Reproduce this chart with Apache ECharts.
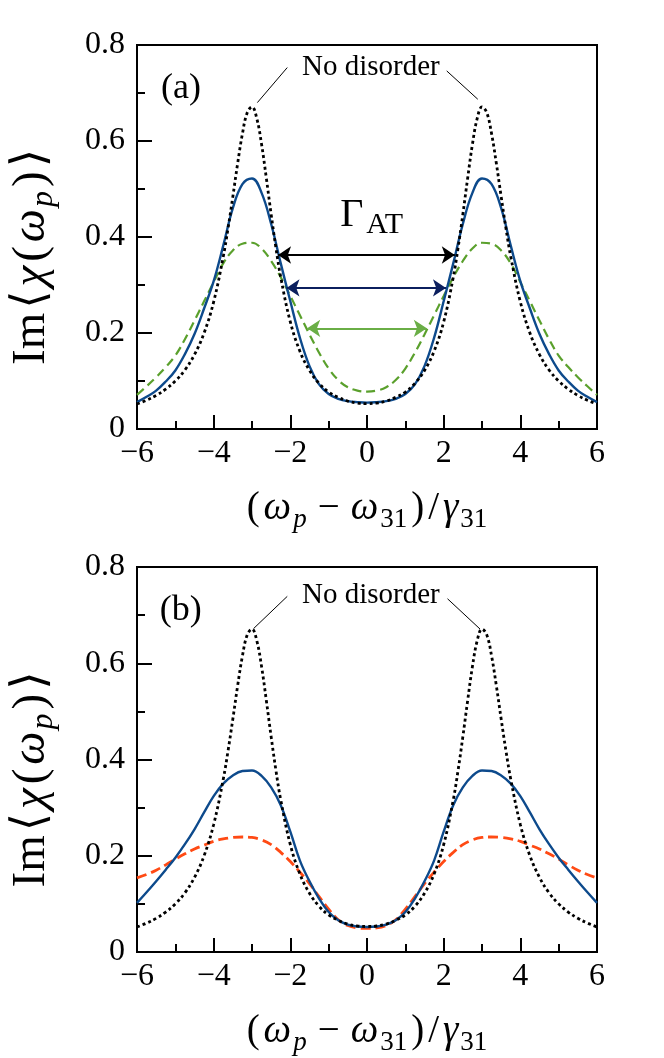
<!DOCTYPE html>
<html>
<head>
<meta charset="utf-8">
<script src="https://cdn.jsdelivr.net/npm/echarts@6.0.0/dist/echarts.min.js"></script>
<style>
html, body { margin: 0; padding: 0; background: #fff; }
#chart { width: 664px; height: 1058px; }
</style>
</head>
<body>
<div id="chart"></div>
<script>
// detuning (omega_p - omega_31)/gamma_31, shared by the disordered curves
var xs = [-6,-5.75,-5.5,-5.25,-5,-4.75,-4.5,-4.25,-4,-3.75,-3.5,-3.25,-3,-2.75,-2.5,-2.25,-2,-1.75,-1.5,-1.25,-1,-0.75,-0.5,-0.25,0,
          0.25,0.5,0.75,1,1.25,1.5,1.75,2,2.25,2.5,2.75,3,3.25,3.5,3.75,4,4.25,4.5,4.75,5,5.25,5.5,5.75,6];

// no-disorder curve is sharper, so it is read a bit finer near the peaks
var xDot = [-6,-5.75,-5.5,-5.25,-5,-4.75,-4.5,-4.25,-4,-3.75,-3.625,-3.5,-3.375,-3.25,-3.125,-3,-2.875,-2.75,-2.625,-2.5,-2.375,-2.25,-2,-1.75,-1.5,-1.25,-1,-0.75,-0.5,-0.25,0,
            0.25,0.5,0.75,1,1.25,1.5,1.75,2,2.25,2.375,2.5,2.625,2.75,2.875,3,3.125,3.25,3.375,3.5,3.625,3.75,4,4.25,4.5,4.75,5,5.25,5.5,5.75,6];
var noDisorder = [0.052,0.060,0.070,0.083,0.100,0.123,0.155,0.200,0.265,0.359,0.418,0.484,0.553,0.615,0.659,0.671,0.647,0.593,0.522,0.447,0.377,0.316,0.223,0.162,0.122,0.095,0.077,0.066,0.058,0.054,0.053,
                  0.054,0.058,0.066,0.077,0.095,0.122,0.162,0.223,0.316,0.377,0.447,0.522,0.593,0.647,0.671,0.659,0.615,0.553,0.484,0.418,0.359,0.265,0.200,0.155,0.123,0.100,0.083,0.070,0.060,0.052];

// panel (a)
var blueA = [0.056,0.067,0.080,0.099,0.122,0.156,0.198,0.251,0.308,0.382,0.460,0.510,0.522,0.492,0.427,0.345,0.266,0.190,0.131,0.093,0.073,0.063,0.058,0.056,0.055,
             0.056,0.058,0.063,0.073,0.093,0.131,0.190,0.266,0.345,0.427,0.492,0.522,0.510,0.460,0.382,0.308,0.251,0.198,0.156,0.122,0.099,0.080,0.067,0.056];
var greenA = [0.071,0.089,0.108,0.129,0.153,0.187,0.226,0.266,0.306,0.345,0.372,0.386,0.388,0.376,0.350,0.316,0.277,0.237,0.197,0.159,0.126,0.102,0.087,0.080,0.078,
              0.080,0.087,0.102,0.126,0.159,0.197,0.237,0.277,0.316,0.350,0.376,0.388,0.386,0.372,0.345,0.306,0.266,0.226,0.187,0.153,0.129,0.108,0.089,0.071];

// panel (b)
var blueB = [0.102,0.124,0.147,0.171,0.196,0.224,0.255,0.290,0.324,0.350,0.367,0.376,0.377,0.366,0.342,0.305,0.250,0.190,0.147,0.111,0.083,0.066,0.057,0.053,0.052,
             0.053,0.057,0.066,0.083,0.111,0.147,0.190,0.250,0.305,0.342,0.366,0.377,0.376,0.367,0.350,0.324,0.290,0.255,0.224,0.196,0.171,0.147,0.124,0.102];
var redB = [0.154,0.161,0.170,0.181,0.193,0.204,0.214,0.222,0.230,0.235,0.238,0.239,0.238,0.233,0.223,0.207,0.188,0.166,0.142,0.115,0.089,0.067,0.055,0.050,0.049,
            0.050,0.055,0.067,0.089,0.115,0.142,0.166,0.188,0.207,0.223,0.233,0.238,0.239,0.238,0.235,0.230,0.222,0.214,0.204,0.193,0.181,0.170,0.161,0.154];

// Gamma_AT width arrows in panel (a): level, left end, right end
var arrowLevels = [0.3625, 0.294, 0.2097];
var arrowLeft   = [-2.32, -2.10, -1.56];
var arrowRight  = [2.29, 2.06, 1.56];
var arrowColors = ['#000000', '#0b1f5e', '#6aae46'];

// "No disorder" leader lines: [from, to] in data coords
var leadersA = [[[-2.08, 0.753], [-2.86, 0.680]], [[2.08, 0.746], [2.89, 0.687]]];
var leadersB = [[[-2.08, 0.739], [-2.96, 0.672]], [[2.10, 0.734], [2.95, 0.671]]];

var SERIF = '"Liberation Serif", "DejaVu Serif", serif';

function pairs(x, y) {
    var out = [];
    for (var i = 0; i < x.length; i++) out.push([x[i], y[i]]);
    return out;
}

// math-like rich styles; a little horizontal padding imitates TeX spacing
function mathRich(size, subSize, pad, minusPad) {
    var lh = size + 10;
    return {
        t: { fontFamily: SERIF, fontSize: size, lineHeight: lh, color: '#000', padding: [0, pad, 0, pad] },
        i: { fontFamily: SERIF, fontSize: size, lineHeight: lh, fontStyle: 'italic', color: '#000', padding: [0, pad, 0, pad] },
        m: { fontFamily: SERIF, fontSize: size, lineHeight: lh, color: '#000', padding: [0, minusPad, 0, minusPad] },
        s: { fontFamily: SERIF, fontSize: subSize, lineHeight: subSize + 8, fontStyle: 'italic', verticalAlign: 'bottom', color: '#000', padding: [0, pad, 0, 0] },
        n: { fontFamily: SERIF, fontSize: subSize, lineHeight: subSize + 8, verticalAlign: 'bottom', color: '#000', padding: [0, pad, 0, 0] }
    };
}

function xAxisFor(idx) {
    return {
        type: 'value', gridIndex: idx, min: -6, max: 6, interval: 2,
        name: '{t|(}{i|ω}{s|p}{m|−}{i|ω}{n|31}{t|)}{t|/}{i|γ}{n|31}',
        nameLocation: 'middle', nameGap: 55,
        nameTextStyle: { rich: mathRich(39, 27, 2, 9) },
        axisLine: { show: true, onZero: false, lineStyle: { color: '#000', width: 2 } },
        axisTick: { show: true, inside: true, length: 14, lineStyle: { color: '#000', width: 2 } },
        minorTick: { show: true, splitNumber: 2, length: 8, lineStyle: { color: '#000', width: 2 } },
        splitLine: { show: false },
        axisLabel: {
            color: '#000', fontFamily: SERIF, fontSize: 32, margin: 9,
            formatter: function (v) { return String(v).replace('-', '\u2212'); }
        }
    };
}

function yAxisFor(idx) {
    return {
        type: 'value', gridIndex: idx, min: 0, max: 0.8, interval: 0.2,
        name: '{t|Im}{t|⟨}{i|χ}{t|(}{i|ω}{s|p}{t|)}{t|⟩}',
        nameLocation: 'middle', nameGap: 77,
        nameTextStyle: { rich: mathRich(47, 32, 2, 2), padding: [0, 40, 0, 0] },
        axisLine: { show: true, onZero: false, lineStyle: { color: '#000', width: 2 } },
        axisTick: { show: true, inside: true, length: 15, lineStyle: { color: '#000', width: 2 } },
        minorTick: { show: true, splitNumber: 2, length: 8, lineStyle: { color: '#000', width: 2 } },
        splitLine: { show: false },
        axisLabel: { color: '#000', fontFamily: SERIF, fontSize: 32, margin: 12 }
    };
}

function leaderLines(list) {
    var out = [];
    for (var i = 0; i < list.length; i++) {
        out.push([{ coord: list[i][0] }, { coord: list[i][1] }]);
    }
    return {
        silent: true, symbol: ['none', 'none'], label: { show: false },
        lineStyle: { color: '#000', width: 1, type: 'solid' },
        data: out
    };
}

function widthArrows() {
    var out = [];
    for (var i = 0; i < arrowLevels.length; i++) {
        out.push([
            { coord: [arrowLeft[i], arrowLevels[i]],
              lineStyle: { color: arrowColors[i], width: 2, type: 'solid' },
              itemStyle: { color: arrowColors[i] } },
            { coord: [arrowRight[i], arrowLevels[i]], itemStyle: { color: arrowColors[i] } }
        ]);
    }
    return {
        silent: true, symbol: ['arrow', 'arrow'], symbolSize: 13, label: { show: false },
        data: out
    };
}

function curve(name, idx, x, y, color, width, dash) {
    return {
        name: name, type: 'line', xAxisIndex: idx, yAxisIndex: idx,
        data: pairs(x, y), showSymbol: false, smooth: 0.4, z: 3,
        lineStyle: { color: color, width: width, type: dash || 'solid', cap: 'butt' }
    };
}

function BriefingSusceptibilityChart(elementId) {
    var myChart = echarts.init(document.getElementById(elementId));

    var dotA = curve('No disorder', 0, xDot, noDisorder, '#000', 2.8, [3, 3]);
    dotA.markLine = leaderLines(leadersA);
    var solidA = curve('blue a', 0, xs, blueA, '#0d4a8c', 2.4);
    solidA.markLine = widthArrows();
    var dotB = curve('No disorder', 1, xDot, noDisorder, '#000', 2.8, [3, 3]);
    dotB.markLine = leaderLines(leadersB);

    var option = {
        backgroundColor: '#fff',
        animation: false,
        grid: [
            { left: 130, top: 45, width: 467, height: 384, show: true, borderColor: '#000', borderWidth: 2 },
            { left: 130, top: 567, width: 467, height: 385, show: true, borderColor: '#000', borderWidth: 2 }
        ],
        xAxis: [xAxisFor(0), xAxisFor(1)],
        yAxis: [yAxisFor(0), yAxisFor(1)],
        series: [
            curve('green a', 0, xs, greenA, '#5aa02c', 2.2, [9, 5]),
            solidA,
            dotA,
            curve('red b', 1, xs, redB, '#ff4a14', 2.8, [10, 5]),
            curve('blue b', 1, xs, blueB, '#0d4a8c', 2.4),
            dotB
        ]
    };
    myChart.setOption(option);

    // text annotations placed through the axes
    var g = [];
    function text(gridIndex, x, y, str, size) {
        var p = myChart.convertToPixel({ gridIndex: gridIndex }, [x, y]);
        g.push({ type: 'text', x: p[0], y: p[1], z: 10,
                 style: { text: str, fill: '#000', fontFamily: SERIF, fontSize: size, align: 'center', verticalAlign: 'middle' } });
    }
    text(0, 0.1, 0.753, 'No disorder', 29);
    text(1, 0.1, 0.741, 'No disorder', 29);
    text(0, -4.85, 0.71, '(a)', 36);
    text(1, -4.86, 0.71, '(b)', 36);

    var pg = myChart.convertToPixel({ gridIndex: 0 }, [0.12, 0.445]);
    g.push({ type: 'text', x: pg[0], y: pg[1], z: 10,
             style: { text: '{g|Γ}{s|AT}', align: 'center', verticalAlign: 'middle',
                      rich: { g: { fontFamily: SERIF, fontSize: 40, lineHeight: 50, color: '#000' },
                              s: { fontFamily: SERIF, fontSize: 30, lineHeight: 36, verticalAlign: 'bottom', color: '#000', padding: [0, 0, 0, 3] } } } });
    myChart.setOption({ graphic: g });
    return myChart;
}

BriefingSusceptibilityChart('chart');
</script>
</body>
</html>
